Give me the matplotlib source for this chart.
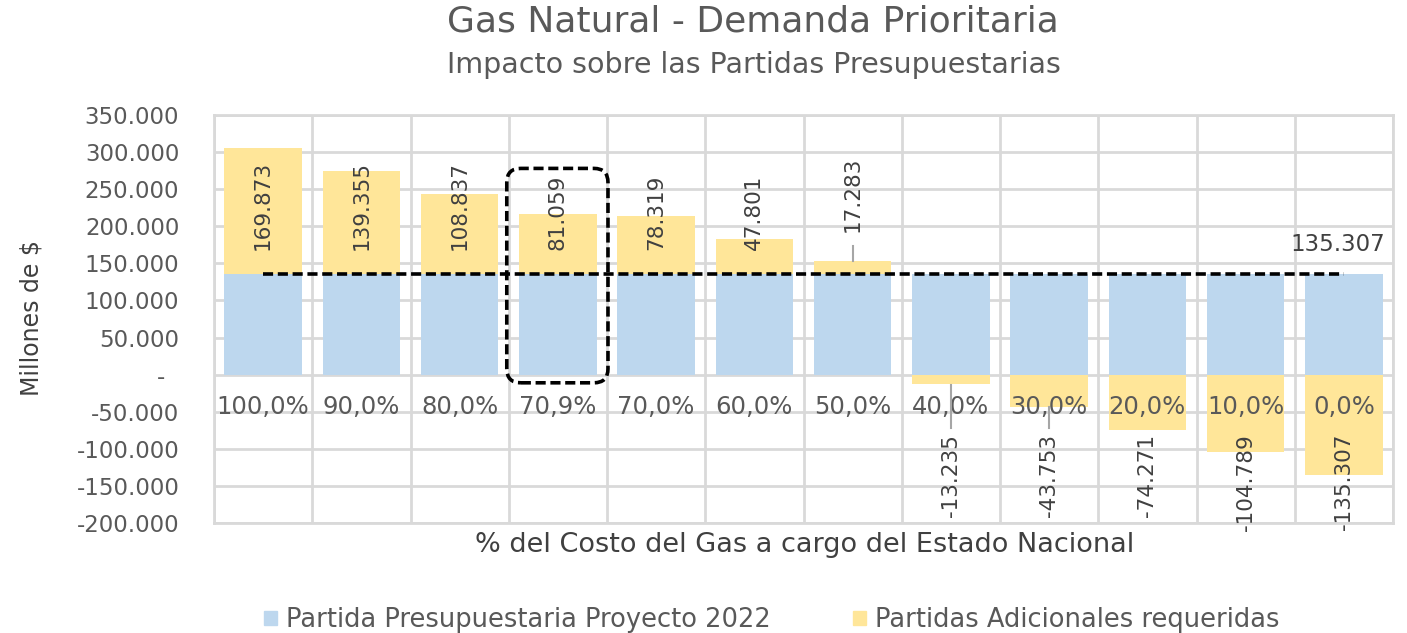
import matplotlib
matplotlib.use("Agg")
import matplotlib.pyplot as plt
from matplotlib.patches import FancyBboxPatch, Patch
from matplotlib.transforms import IdentityTransform
from matplotlib.ticker import FuncFormatter, MultipleLocator

categories = ["100,0%", "90,0%", "80,0%", "70,9%", "70,0%", "60,0%", "50,0%",
              "40,0%", "30,0%", "20,0%", "10,0%", "0,0%"]
base_values = [135307] * 12
extra_values = [169873, 139355, 108837, 81059, 78319, 47801, 17283,
                -13235, -43753, -74271, -104789, -135307]
reference_line = [135307] * 12
highlight_index = 3

BLUE = "#BDD7EE"
YELLOW = "#FFE699"
GRID = "#D9D9D9"
TXT = "#595959"

plt.rcParams["font.family"] = ["DejaVu Sans"]
fig = plt.figure(figsize=(14.07, 6.33), dpi=100)
ax = fig.add_axes([214/1407, 1-523/633, (1393-214)/1407, (523-115)/633])

x = list(range(len(categories)))
w = 0.79
ax.bar(x, base_values, width=w, color=BLUE, zorder=2)
bottoms = [b if e > 0 else 0 for b, e in zip(base_values, extra_values)]
ax.bar(x, extra_values, width=w, bottom=bottoms, color=YELLOW, zorder=2)

ax.plot(x, reference_line, color="black", lw=2.6, linestyle=(0, (2.8, 1.3)), zorder=4)

ax.set_xlim(-0.5, len(categories) - 0.5)
ax.set_ylim(-200000, 350000)
ax.yaxis.set_major_locator(MultipleLocator(50000))
ax.set_xticks([i + 0.5 for i in range(-1, len(categories))])
ax.set_xticklabels([])
ax.tick_params(axis="x", length=0)
ax.tick_params(axis="y", length=0, pad=25, labelsize=16.5, labelcolor=TXT)

def fmt(v, pos):
    if abs(v) < 1:
        return "-  "
    return f"{v:,.0f}".replace(",", ".")
ax.yaxis.set_major_formatter(FuncFormatter(fmt))
ax.grid(True, color=GRID, lw=2, zorder=0)
ax.set_axisbelow(True)
for s in ax.spines.values():
    s.set_color(GRID)
    s.set_linewidth(2)

# category labels near zero
for i, c in enumerate(categories):
    ax.text(i, -44000, c, ha="center", va="center", fontsize=17.5, color=TXT, zorder=5)

# data labels
LBL = "#404040"
for i, (b, e) in enumerate(zip(base_values, extra_values)):
    s = f"{e:,}".replace(",", ".")
    if e > 0:
        top = b + e
        if top > 160000:
            ax.text(i, 168000, s, rotation=90, ha="center", va="bottom", fontsize=15.5, color=LBL, zorder=5)
        else:
            ax.text(i, 192000, s, rotation=90, ha="center", va="bottom", fontsize=15.5, color=LBL, zorder=5)
            ax.plot([i, i], [top + 1000, 174000], color="#A6A6A6", lw=1.5, zorder=5)
    else:
        ax.text(i, -80000, s, rotation=90, ha="center", va="top", fontsize=15.5, color=LBL, zorder=5)
        if e > -60000:
            ax.plot([i, i], [e - 500, -72000], color="#A6A6A6", lw=1.5, zorder=5)

ax.text(11.42, 175000, f"{reference_line[-1]:,}".replace(",", "."), ha="right", va="center",
        fontsize=16.5, color="#404040", zorder=5)

# highlight rounded dashed box
fig.canvas.draw()
p0 = ax.transData.transform((highlight_index - 0.52, -11000))
p1 = ax.transData.transform((highlight_index + 0.51, 278000))
box = FancyBboxPatch((p0[0], p0[1]), p1[0] - p0[0], p1[1] - p0[1],
                     boxstyle="round,pad=0,rounding_size=14", transform=IdentityTransform(),
                     fill=False, edgecolor="black", lw=2.6, linestyle=(0, (2.8, 1.3)),
                     zorder=6, clip_on=False)
fig.patches.append(box)
box.set_figure(fig)

fig.text(32/1407, 1-318/633, "Millones de $", rotation=90, ha="center", va="center",
         fontsize=17, color="#404040")
fig.text(805/1407, 1-545/633, "% del Costo del Gas a cargo del Estado Nacional", ha="center", va="center",
         fontsize=19.5, color="#404040")
fig.text(753/1407, 1-22/633, "Gas Natural - Demanda Prioritaria", ha="center", va="center",
         fontsize=26, color=TXT)
fig.text(754/1407, 1-65/633, "Impacto sobre las Partidas Presupuestarias", ha="center", va="center",
         fontsize=20.5, color=TXT)

handles = [Patch(color=BLUE), Patch(color=YELLOW)]
fig.legend(handles, ["Partida Presupuestaria Proyecto 2022", "Partidas Adicionales requeridas"],
           loc="center", bbox_to_anchor=(772/1407, 1-620/633), ncol=2, frameon=False,
           fontsize=18.5, handlelength=0.5, handleheight=0.5, handletextpad=0.35,
           columnspacing=3.2, labelcolor=TXT)

fig.savefig("out.png", dpi=100)
